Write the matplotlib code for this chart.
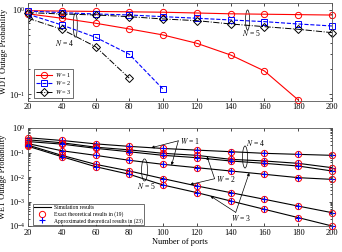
import numpy as np
import matplotlib
matplotlib.use("Agg")
import matplotlib.pyplot as plt
from matplotlib.patches import Ellipse

plt.rcParams['font.family'] = ['Liberation Serif', 'DejaVu Serif']
plt.rcParams['mathtext.fontset'] = 'stix'

ports = [20, 40, 60, 80, 100, 120, 140, 160, 180, 200]

# WDT outage probability (top panel)
wdt_n4_w1 = [0.90, 0.797, 0.695, 0.594, 0.504, 0.401, 0.291, 0.188, 0.085]
wdt_n4_w2 = [0.89, 0.663, 0.473, 0.297, 0.114]
wdt_n4_w3 = [0.797, 0.589, 0.366, 0.154]
wdt_n5_w1 = [0.98, 0.97, 0.96, 0.95, 0.94, 0.92, 0.90, 0.89, 0.88, 0.87]
wdt_n5_w2 = [0.973, 0.929, 0.896, 0.872, 0.832, 0.797, 0.760, 0.726, 0.681, 0.645]
wdt_n5_w3 = [0.929, 0.896, 0.872, 0.832, 0.781, 0.746, 0.681, 0.633, 0.589, 0.537]

# WET outage probability (bottom panel)
wet_c1 = [0.40, 0.31, 0.225, 0.178, 0.146, 0.125, 0.108, 0.0925, 0.0841, 0.0766]
wet_c2 = [0.33, 0.25, 0.165, 0.128, 0.0925, 0.0766, 0.0526, 0.045, 0.0361, 0.024]
wet_c3 = [0.28, 0.22, 0.148, 0.107, 0.0766, 0.0615, 0.045, 0.0361, 0.0281, 0.0176]
wet_c4 = [0.23, 0.118, 0.0766, 0.048, 0.0329, 0.024, 0.0176, 0.0129, 0.0094, 0.008]
wet_c5 = [0.20, 0.0766, 0.0329, 0.0176, 0.00855, 0.0043, 0.0023, 0.00123, 0.00065, 0.00035]
wet_c6 = [0.18, 0.0676, 0.0264, 0.0129, 0.0047, 0.0023, 0.00105, 0.00048, 0.00022, 0.0001]
wet_curves = [wet_c1, wet_c2, wet_c3, wet_c4, wet_c5, wet_c6]

legend_top = ["$W$ = 1", "$W$ = 2", "$W$ = 3"]
legend_bottom = ["Simulation results", "Exact theoretical results in (19)",
                 "Approximated theoretical results in (23)"]

W, H = 342, 252
fig = plt.figure(figsize=(W / 100, H / 100), dpi=100)

def frac(l, t, r, b):
    return [l / W, 1 - b / H, (r - l) / W, (b - t) / H]

fs = 6

def style(ax):
    ax.set_yscale('log')
    ax.set_xlim(20, 200)
    ax.set_xticks(ports)
    ax.tick_params(which='both', direction='in', top=True, right=True,
                   labelsize=fs, pad=2)
    ax.tick_params(which='major', length=2.5, width=0.5)
    ax.tick_params(which='minor', length=1.5, width=0.5)
    for s in ax.spines.values():
        s.set_linewidth(0.6)
        s.set_color('#555555')

def ellipse(ax, x, y, w_px, h_px):
    cx, cy = ax.transAxes.inverted().transform(ax.transData.transform((x, y)))
    bb = ax.get_window_extent()
    ax.add_patch(Ellipse((cx, cy), width=w_px / bb.width, height=h_px / bb.height,
                         transform=ax.transAxes, fill=False, lw=0.5,
                         color='black'))

tkw = dict(fontsize=5.5, va='center')

# ---- top panel ----
ax1 = fig.add_axes(frac(28, 3, 332, 100.5))
style(ax1)
ax1.set_ylim(0.0837, 1.21)
ms = 4.5
l1, = ax1.plot(ports[:len(wdt_n4_w1)], wdt_n4_w1, '-', color='red', marker='o',
               mfc='none', ms=ms, lw=0.8, mew=0.7, clip_on=False)
l2, = ax1.plot(ports[:len(wdt_n4_w2)], wdt_n4_w2, '--', color='blue', marker='s',
               mfc='none', ms=ms - 0.5, lw=0.8, mew=0.7)
l3, = ax1.plot(ports[:len(wdt_n4_w3)], wdt_n4_w3, '-.', color='black', marker='D',
               mfc='none', ms=ms - 0.7, lw=0.7, mew=0.7)
ax1.plot(ports, wdt_n5_w1, '-', color='red', marker='o', mfc='none', ms=ms, lw=0.8,
         mew=0.7, clip_on=False)
ax1.plot(ports, wdt_n5_w2, '--', color='blue', marker='s', mfc='none', ms=ms - 0.5,
         lw=0.8, mew=0.7, clip_on=False)
ax1.plot(ports, wdt_n5_w3, '-.', color='black', marker='D', mfc='none', ms=ms - 0.7,
         lw=0.7, mew=0.7, clip_on=False)
ax1.set_ylabel("WDT Outage Probability", fontsize=fs, labelpad=1)
leg1 = ax1.legend([l1, l2, l3], legend_top, loc='lower left', fontsize=4.5,
                  bbox_to_anchor=(0.02, 0.03), frameon=True, fancybox=False,
                  edgecolor='black', handlelength=2.6, borderpad=0.25,
                  labelspacing=0.1, handletextpad=0.5, borderaxespad=0)
leg1.get_frame().set_linewidth(0.5)

ellipse(ax1, 48, 0.66, 4, 24)
ax1.text(47.5, 0.405, "$N$ = 4", ha='right', **tkw)
ellipse(ax1, 150, 0.76, 4, 20)
ax1.text(146.5, 0.53, "$N$ = 5", ha='left', **tkw)

# ---- bottom panel ----
ax2 = fig.add_axes(frac(28, 128, 332, 226))
style(ax2)
ax2.set_ylim(1e-4, 1)
ax2.set_yticks([1e-4, 1e-3, 1e-2, 1e-1, 1])
for c in wet_curves:
    ls, = ax2.plot(ports, c, '-', color='black', lw=0.8)
    le, = ax2.plot(ports, c, 'o', color='red', mfc='none', ms=4.5, mew=0.7,
                   clip_on=False)
    la, = ax2.plot(ports, c, '+', color='blue', ms=5, mew=0.8, clip_on=False)
ax2.set_ylabel("WET Outage Probability", fontsize=fs, labelpad=1)
ax2.set_xlabel("Number of ports", fontsize=fs, labelpad=1)
leg2 = ax2.legend([ls, le, la], legend_bottom, loc='lower left', fontsize=4,
                  bbox_to_anchor=(0.015, 0.01), frameon=True, fancybox=False,
                  edgecolor='black', handlelength=3.0, borderpad=0.25,
                  labelspacing=0.15, handletextpad=0.6, borderaxespad=0)
leg2.get_frame().set_linewidth(0.5)

def at(curve, x):
    return 10 ** np.interp(x, ports, np.log10(curve))

akw = dict(arrowstyle='-|>', lw=0.5, color='black', mutation_scale=4,
           shrinkA=0, shrinkB=0)
ax2.annotate("", xy=(93, at(wet_c1, 93)), xytext=(109, 0.30), arrowprops=akw)
ax2.annotate("", xy=(105, at(wet_c4, 105)), xytext=(109, 0.30), arrowprops=akw)
ax2.text(110, 0.30, "$W$ = 1", ha='left', **tkw)
ax2.annotate("", xy=(126, at(wet_c2, 126)), xytext=(130.5, 0.0085), arrowprops=akw)
ax2.annotate("", xy=(116, at(wet_c5, 116)), xytext=(130.5, 0.0085), arrowprops=akw)
ax2.text(131.5, 0.0085, "$W$ = 2", ha='left', **tkw)
ax2.annotate("", xy=(151, at(wet_c4, 151)), xytext=(143, 0.00036), arrowprops=akw)
ax2.annotate("", xy=(128, at(wet_c6, 128)), xytext=(143, 0.00036), arrowprops=akw)
ax2.text(140, 0.00021, "$W$ = 3", ha='left', **tkw)
ellipse(ax2, 148.5, 0.0655, 5, 22)
ax2.text(149, 0.245, "$N$ = 4", ha='left', **tkw)
ellipse(ax2, 89, 0.0194, 6, 22)
ax2.text(84.5, 0.0043, "$N$ = 5", ha='left', **tkw)

fig.savefig("out.png", dpi=100)
